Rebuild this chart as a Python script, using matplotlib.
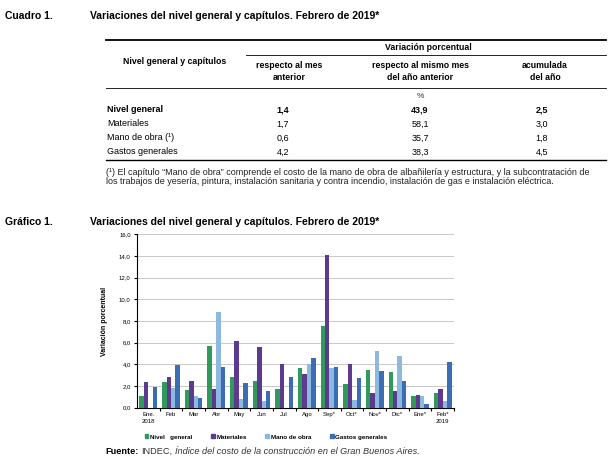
import numpy as np
import matplotlib
matplotlib.use("Agg")
import matplotlib.pyplot as plt
from matplotlib.lines import Line2D
from matplotlib.patches import Patch

plt.rcParams['font.family'] = ['Liberation Sans Narrow', 'Liberation Sans', 'DejaVu Sans']

# table data
row_names = ["Nivel general", "Materiales", "Mano de obra (¹)", "Gastos generales"]
mes_anterior = ["1,4", "1,7", "0,6", "4,2"]
anio_anterior = ["43,9", "58,1", "35,7", "38,3"]
acumulada = ["2,5", "3,0", "1,8", "4,5"]

# chart data
meses = ["Ene.\n2018", "Feb", "Mar", "Abr", "May", "Jun", "Jul", "Ago",
         "Sep*", "Oct*", "Nov*", "Dic*", "Ene*", "Feb*\n2019"]
nivel_general = [1.1, 2.4, 1.6, 5.7, 2.8, 2.5, 1.7, 3.7, 7.5, 2.2, 3.5, 3.3, 1.1, 1.4]
materiales = [2.4, 2.8, 2.5, 1.7, 6.2, 5.6, 4.0, 3.1, 14.1, 4.0, 1.4, 1.5, 1.2, 1.7]
mano_obra = [0.0, 1.8, 1.1, 8.8, 0.8, 0.6, 0.0, 4.0, 3.7, 0.7, 5.2, 4.8, 1.1, 0.6]
gastos_generales = [1.9, 3.9, 0.9, 3.8, 2.3, 1.5, 2.8, 4.6, 3.8, 2.7, 3.4, 2.5, 0.3, 4.2]

W, H = 611, 469
fig = plt.figure(figsize=(W / 100, H / 100), dpi=100)
SANS = ['Liberation Sans', 'DejaVu Sans']

def fx(px):
    return px / W

def fy(py):
    return 1 - py / H

def txt(x, y, s, **kw):
    return fig.text(fx(x), fy(y), s, va='center', **kw)

def hline(x0, x1, y, lw=0.8):
    fig.add_artist(Line2D([fx(x0), fx(x1)], [fy(y), fy(y)], color='black', lw=lw,
                          transform=fig.transFigure))

# ---- table ----
txt(5, 16, "Cuadro 1.", fontsize=7.5, fontweight='bold')
txt(90, 16, "Variaciones del nivel general y capítulos. Febrero de 2019*", fontsize=7.5, fontweight='bold')

hline(106, 606, 40, lw=1.3)
txt(428, 47, "Variación porcentual", fontsize=6.3, fontweight='bold', ha='center')
hline(246, 606, 55, lw=0.6)
txt(175, 61, "Nivel general y capítulos", fontsize=6.3, fontweight='bold', ha='center')
txt(289, 66, "respecto al mes", fontsize=6.3, fontweight='bold', ha='center')
txt(289, 77, "anterior", fontsize=6.3, fontweight='bold', ha='center')
txt(420, 66, "respecto al mismo mes", fontsize=6.3, fontweight='bold', ha='center')
txt(420, 77, "del año anterior", fontsize=6.3, fontweight='bold', ha='center')
txt(545, 66, "acumulada", fontsize=6.3, fontweight='bold', ha='center')
txt(545, 77, "del año", fontsize=6.3, fontweight='bold', ha='center')
hline(106, 606, 88, lw=0.6)
txt(420, 97, "%", fontsize=6, ha='center', color='#333333')

for i, name in enumerate(row_names):
    y = 110 + i * 14
    w = 'bold' if i == 0 else 'normal'
    txt(107, y, name, fontsize=6.5, fontweight=w)
    txt(283, y, mes_anterior[i], fontsize=6.5, fontweight=w, ha='center')
    txt(420, y, anio_anterior[i], fontsize=6.5, fontweight=w, ha='center')
    txt(542, y, acumulada[i], fontsize=6.5, fontweight=w, ha='center')
hline(106, 606, 160, lw=1.0)

txt(106, 172, "(¹) El capítulo “Mano de obra” comprende el costo de la mano de obra de albañilería y estructura, y la subcontratación de",
    fontsize=6.5, family=SANS, color='#222222')
txt(106, 182, "los trabajos de yesería, pintura, instalación sanitaria y contra incendio, instalación de gas e instalación eléctrica.",
    fontsize=6.5, family=SANS, color='#222222')

# ---- chart ----
txt(5, 222, "Gráfico 1.", fontsize=7.5, fontweight='bold')
txt(90, 222, "Variaciones del nivel general y capítulos. Febrero de 2019*", fontsize=7.5, fontweight='bold')

ax = fig.add_axes([fx(137), fy(407.7), fx(454) - fx(137), fy(234.3) - fy(407.7)])
x = np.arange(len(meses))
bw = 0.195
colors = ['#2f9a5a', '#5b3a8f', '#8db9de', '#3a6db4']
series = [nivel_general, materiales, mano_obra, gastos_generales]
labels = ["Nivel   general", "Materiales", "Mano de obra", "Gastos generales"]
for k, (vals, c) in enumerate(zip(series, colors)):
    ax.bar(x + (k - 1.5) * bw, vals, width=bw, color=c, edgecolor='none', zorder=3)

ax.set_xlim(-0.5, 13.5)
ax.set_ylim(0, 16)
ax.set_yticks(np.arange(0, 17, 2))
ax.set_yticklabels([f"{v:.1f}".replace('.', ',') for v in np.arange(0, 17, 2)], fontsize=4.3)
ax.yaxis.grid(True, color='#c8c8c8', lw=0.7, zorder=0)
ax.set_xticks(x)
ax.set_xticklabels(meses, fontsize=4.3, linespacing=1.5)
ax.set_xticks(np.arange(0.5, 13.6, 1), minor=True)
ax.tick_params(axis='x', which='major', length=0, pad=3)
ax.tick_params(axis='x', which='minor', length=2.5, width=0.8, direction='out')
ax.tick_params(axis='y', length=2.5, width=0.8, pad=2)
for s in ['top', 'right']:
    ax.spines[s].set_visible(False)
ax.spines['left'].set_linewidth(0.8)
ax.spines['bottom'].set_linewidth(0.8)
ax.set_ylabel("Variación porcentual", fontsize=5, fontweight='bold', labelpad=8)

handles = [Patch(color=c) for c in colors]
leg = fig.legend(handles, labels, loc='center left', bbox_to_anchor=(fx(139), fy(437)),
                 ncol=4, frameon=False, handlelength=0.6, handleheight=0.6,
                 handletextpad=0.25, columnspacing=3.0, prop={'size': 4.5, 'weight': 'bold'})

# source line, pieces placed one after another
parts = [("Fuente:", dict(fontweight='bold', color='black')),
         ("INDEC,", dict(color='#333333')),
         ("Índice del costo de la construcción en el Gran Buenos Aires.", dict(style='italic', color='#333333'))]
fig.canvas.draw()
renderer = fig.canvas.get_renderer()
xpos = 105
for s, kw in parts:
    t = txt(xpos, 451, s, fontsize=6.6, family=SANS, **kw)
    bb = t.get_window_extent(renderer)
    xpos += bb.width + 3

fig.savefig("out.png", dpi=100)
